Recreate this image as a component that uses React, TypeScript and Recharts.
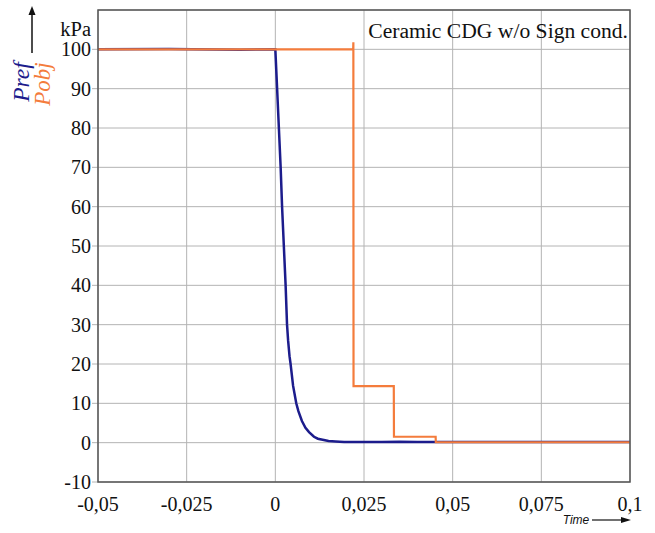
import { LineChart, Line, XAxis, YAxis, CartesianGrid } from 'recharts';

// Pref: reference pressure
const prefTime = [-0.05, -0.03, -0.01, 0, 0.0005, 0.001, 0.0015, 0.0019, 0.0024, 0.0029, 0.0033, 0.0036, 0.004, 0.0043, 0.005, 0.0059, 0.0065, 0.0075, 0.0085, 0.0095, 0.0109, 0.012, 0.015, 0.017, 0.0194, 0.025, 0.03, 0.035, 0.04, 0.045, 0.06, 0.08, 0.1];
const prefValue = [100, 100.1, 99.9, 100, 90, 80, 70, 60, 50, 40, 30, 26, 22, 20, 14.5, 10, 8, 5.5, 3.8, 2.7, 1.5, 1.0, 0.4, 0.3, 0.2, 0.2, 0.15, 0.25, 0.2, 0.2, 0.15, 0.2, 0.15];

// Pobj: object pressure, stepping down
const pobjTime = [-0.05, 0.02195, 0.022, 0.02205, 0.0334, 0.03345, 0.0452, 0.04525, 0.1];
const pobjValue = [100, 100, 101.8, 14.4, 14.4, 1.5, 1.5, 0.1, 0.1];

const xTicks = [-0.05, -0.025, 0, 0.025, 0.05, 0.075, 0.1];
const yTicks = [-10, 0, 10, 20, 30, 40, 50, 60, 70, 80, 90, 100];

const prefData = prefTime.map((t, i) => ({ t, v: prefValue[i] }));
const pobjData = pobjTime.map((t, i) => ({ t, v: pobjValue[i] }));

const W = 655;
const H = 533;
const M = { top: 10, right: 25, left: 0, bottom: 0 };
const Y_W = 98;
const X_H = 51;
const plotL = M.left + Y_W;
const plotT = M.top;
const plotR = W - M.right;
const plotB = H - M.bottom - X_H;

const serif = 'Liberation Serif, Times New Roman, DejaVu Serif, serif';

export default function App() {
  return (
    <div style={{ position: 'absolute', left: 0, top: 0, width: W, height: H, background: '#fff', fontFamily: serif }}>
      <LineChart width={W} height={H} margin={M} style={{ fontFamily: serif }}>
        <CartesianGrid stroke="#b4b4b4" strokeWidth={1} />
        <XAxis
          type="number"
          dataKey="t"
          domain={[-0.05, 0.1]}
          ticks={xTicks}
          height={X_H}
          axisLine={false}
          tickLine={false}
          tickSize={6}
          tickMargin={9}
          tick={{ fill: '#111', fontSize: 20, style: { fontFamily: serif } }}
          tickFormatter={(v: number) => String(v).replace('.', ',')}
          allowDuplicatedCategory={false}
        />
        <YAxis
          type="number"
          dataKey="v"
          domain={[-10, 110]}
          ticks={yTicks}
          width={Y_W}
          axisLine={false}
          tickLine={{ stroke: '#b4b4b4' }}
          tickSize={6}
          tickMargin={1}
          tick={{ fill: '#111', fontSize: 20, style: { fontFamily: serif } }}
        />
        <Line data={prefData} dataKey="v" type="linear" stroke="#1c1c8c" strokeWidth={2.5} dot={false} isAnimationActive={false} />
        <Line data={pobjData} dataKey="v" type="linear" stroke="#f47c3c" strokeWidth={2.2} dot={false} isAnimationActive={false} />
      </LineChart>
      <svg width={W} height={H} style={{ position: 'absolute', left: 0, top: 0, pointerEvents: 'none', fontFamily: serif }}>
        <rect x={plotL} y={plotT} width={plotR - plotL} height={plotB - plotT} fill="none" stroke="#555" strokeWidth={1.5} />
        <text x={plotR - 2} y={38} textAnchor="end" fontSize={21.6} fill="#111">Ceramic CDG w/o Sign cond.</text>
        <text x={91} y={36} textAnchor="end" fontSize={20.5} fill="#111">kPa</text>
        <line x1={32} y1={53} x2={32} y2={14} stroke="#111" strokeWidth={1.5} />
        <path d="M32,6 L28.5,15 L35.5,15 Z" fill="#111" />
        <text transform="translate(29,82) rotate(-90)" textAnchor="middle" fontStyle="italic" fontSize={23.5} fill="#1c1c8c">Pref</text>
        <text transform="translate(50,84) rotate(-90)" textAnchor="middle" fontStyle="italic" fontSize={23} fill="#f47c3c">Pobj</text>
        <text x={576} y={524} textAnchor="middle" style={{ fontFamily: 'Liberation Sans, Arial, sans-serif' }} fontStyle="italic" fontSize={12} fill="#111">Time</text>
        <line x1={592} y1={520} x2={622} y2={520} stroke="#111" strokeWidth={1.2} />
        <path d="M631,520 L621,517 L621,523 Z" fill="#111" />
      </svg>
    </div>
  );
}
